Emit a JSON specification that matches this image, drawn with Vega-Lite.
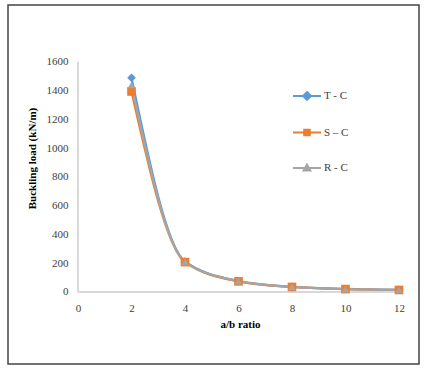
{
  "$schema": "https://vega.github.io/schema/vega-lite/v6.json",
  "width": 411,
  "height": 359,
  "autosize": {"type": "none"},
  "padding": {"left": 8, "top": 5, "right": 9, "bottom": 8},
  "background": "white",
  "config": {
    "view": {"stroke": "#444", "strokeWidth": 1.5},
    "font": "Liberation Serif"
  },
  "data": {
    "values": [
      {"x": 2, "y": 1490, "s": "T - C"},
      {"x": 4, "y": 212, "s": "T - C"},
      {"x": 6, "y": 76, "s": "T - C"},
      {"x": 8, "y": 36, "s": "T - C"},
      {"x": 10, "y": 21, "s": "T - C"},
      {"x": 12, "y": 15, "s": "T - C"},
      {"x": 2, "y": 1395, "s": "S – C"},
      {"x": 4, "y": 208, "s": "S – C"},
      {"x": 6, "y": 74, "s": "S – C"},
      {"x": 8, "y": 35, "s": "S – C"},
      {"x": 10, "y": 20, "s": "S – C"},
      {"x": 12, "y": 14, "s": "S – C"},
      {"x": 2, "y": 1440, "s": "R - C"},
      {"x": 4, "y": 210, "s": "R - C"},
      {"x": 6, "y": 75, "s": "R - C"},
      {"x": 8, "y": 35, "s": "R - C"},
      {"x": 10, "y": 20, "s": "R - C"},
      {"x": 12, "y": 14, "s": "R - C"}
    ]
  },
  "layer": [
    {
      "mark": {"type": "rule", "color": "#d9d9d9", "strokeWidth": 1},
      "encoding": {
        "x": {"datum": 0, "type": "quantitative"},
        "y": {"datum": 0, "type": "quantitative"},
        "y2": {"datum": 1600}
      }
    },
    {
      "mark": {"type": "rule", "color": "#d9d9d9", "strokeWidth": 1},
      "encoding": {
        "y": {"datum": 0, "type": "quantitative"},
        "x": {"datum": 0, "type": "quantitative"},
        "x2": {"datum": 12}
      }
    },
    {
      "mark": {"type": "line", "interpolate": "monotone", "strokeWidth": 2.25},
      "encoding": {
        "x": {
          "field": "x", "type": "quantitative",
          "scale": {"domain": [-2.617, 12.748], "nice": false, "zero": false},
          "axis": {
            "values": [0, 2, 4, 6, 8, 10, 12],
            "domain": false, "ticks": false, "grid": false,
            "offset": -72, "labelPadding": 10,
            "labelFont": "Liberation Serif", "labelFontSize": 11, "labelColor": "#404040",
            "title": "a/b ratio", "titleFont": "Liberation Serif", "titleFontSize": 11,
            "titleFontWeight": "bold", "titleColor": "#000",
            "titleX": 232, "titleY": 32, "titleAlign": "center", "titleBaseline": "middle"
          }
        },
        "y": {
          "field": "y", "type": "quantitative",
          "scale": {"domain": [-500.9, 1996.5], "nice": false, "zero": false},
          "axis": {
            "values": [0, 200, 400, 600, 800, 1000, 1200, 1400, 1600],
            "format": "d",
            "domain": false, "ticks": false, "grid": false,
            "offset": -70, "labelPadding": 10,
            "labelFont": "Liberation Serif", "labelFontSize": 11, "labelColor": "#404040",
            "title": "Buckling load (kN/m)", "titleFont": "Liberation Serif", "titleFontSize": 11,
            "titleFontWeight": "bold", "titleColor": "#000",
            "titleAngle": -90, "titleX": -46, "titleY": 153,
            "titleAlign": "center", "titleBaseline": "middle"
          }
        },
        "color": {
          "field": "s", "type": "nominal",
          "scale": {"domain": ["T - C", "S – C", "R - C"], "range": ["#5B9BD5", "#ED7D31", "#A5A5A5"]},
          "legend": {
            "orient": "none", "legendX": 284, "legendY": 76,
            "title": null, "padding": 0,
            "symbolType": "M-1,0H1", "symbolSize": 784, "symbolStrokeWidth": 2,
            "rowPadding": 13.5, "labelOffset": 2,
            "labelFont": "Liberation Serif", "labelFontSize": 11, "labelColor": "#404040",
            "encode": {
              "symbols": {
                "update": {
                  "shape": {"signal": "datum.value === 'T - C' ? 'M-1,0H1M0,-0.28L0.28,0L0,0.28L-0.28,0Z' : datum.value === 'R - C' ? 'M-1,0H1M0,-0.24L0.24,0.18L-0.24,0.18Z' : 'M-1,0H1M-0.2,-0.2H0.2V0.2H-0.2Z'"},
                  "fill": {"signal": "scale('color', datum.value)"}
                }
              }
            }
          }
        },
        "order": {"field": "x"},
        "detail": {"field": "s"}
      }
    },
    {
      "transform": [{"filter": "datum.s === 'T - C'"}],
      "mark": {"type": "point", "filled": true, "opacity": 1, "shape": "diamond", "size": 75},
      "encoding": {
        "x": {"field": "x", "type": "quantitative"},
        "y": {"field": "y", "type": "quantitative"},
        "color": {"field": "s", "type": "nominal", "legend": null}
      }
    },
    {
      "transform": [{"filter": "datum.s === 'S – C'"}],
      "mark": {"type": "point", "filled": true, "opacity": 1, "shape": "square", "size": 75},
      "encoding": {
        "x": {"field": "x", "type": "quantitative"},
        "y": {"field": "y", "type": "quantitative"},
        "color": {"field": "s", "type": "nominal", "legend": null}
      }
    },
    {
      "transform": [{"filter": "datum.s === 'R - C'"}],
      "mark": {"type": "point", "filled": true, "opacity": 1, "shape": "triangle-up", "size": 60},
      "encoding": {
        "x": {"field": "x", "type": "quantitative"},
        "y": {"field": "y", "type": "quantitative"},
        "color": {"field": "s", "type": "nominal", "legend": null}
      }
    }
  ]
}
